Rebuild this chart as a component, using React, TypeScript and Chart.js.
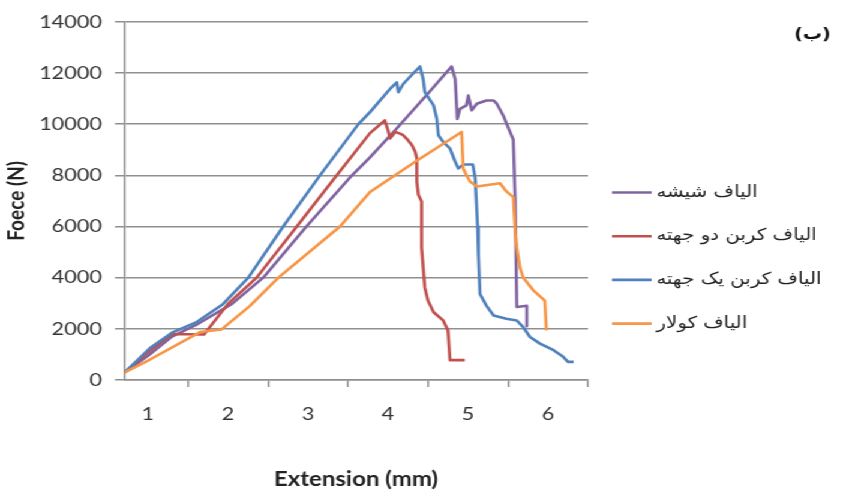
import React, { useEffect, useRef } from 'react';
import { Chart, registerables } from 'chart.js';

Chart.register(...registerables);

// ---------- data ----------
const seriesNames = ['الیاف شیشه', 'الیاف کربن دو جهته', 'الیاف کربن یک جهته', 'الیاف کولار'];
const seriesColors = ['#8064A2', '#C0504D', '#4F81BD', '#F79646'];

const glassX = [0.71, 1.0, 1.3, 1.6, 2.05, 2.44, 2.98, 3.55, 3.775, 4.1, 4.5, 4.795, 4.84, 4.866, 4.9, 4.98, 5.004, 5.046, 5.11, 5.23, 5.32, 5.36, 5.44, 5.525, 5.566, 5.59, 5.61, 5.735, 5.735];
const glassY = [300, 950, 1700, 2150, 2975, 4000, 6000, 8000, 8700, 9800, 11200, 12254, 11760, 10200, 10600, 10730, 11120, 10540, 10800, 10924, 10924, 10800, 10340, 9700, 9400, 7000, 2850, 2900, 2100];

const carbon2X = [0.71, 1.025, 1.3, 1.7, 2.0, 2.358, 2.86, 3.36, 3.775, 3.96, 4.0, 4.025, 4.09, 4.15, 4.19, 4.25, 4.3, 4.34, 4.36, 4.36, 4.38, 4.42, 4.42, 4.44, 4.46, 4.5, 4.57, 4.69, 4.75, 4.775, 4.96];
const carbon2Y = [300, 1150, 1800, 1780, 2975, 4000, 6000, 8000, 9650, 10150, 9760, 9437, 9696, 9630, 9567, 9373, 9178, 8920, 8660, 7756, 7240, 6980, 5170, 4394, 3618, 3102, 2649, 2327, 1939, 776, 776];

const carbon1X = [0.71, 1.025, 1.3, 1.6, 1.94, 2.254, 2.69, 3.15, 3.63, 3.775, 4.025, 4.11, 4.13, 4.19, 4.32, 4.4, 4.44, 4.46, 4.57, 4.61, 4.63, 4.69, 4.775, 4.84, 4.88, 4.94, 5.06, 5.09, 5.12, 5.13, 5.15, 5.23, 5.32, 5.48, 5.61, 5.69, 5.775, 5.9, 6.07, 6.19, 6.25, 6.32];
const carbon1Y = [300, 1250, 1850, 2250, 2975, 4000, 6000, 8000, 10000, 10470, 11375, 11635, 11250, 11570, 12000, 12254, 11760, 11250, 10730, 10210, 9567, 9307, 9047, 8530, 8270, 8420, 8420, 7885, 6000, 4912, 3362, 2908, 2520, 2392, 2327, 2067, 1680, 1422, 1163, 904, 710, 710];

const kevlarX = [0.71, 1.025, 1.65, 1.92, 2.275, 2.63, 3.4, 3.775, 4.34, 4.92, 4.94, 4.98, 5.025, 5.11, 5.4, 5.48, 5.566, 5.59, 5.61, 5.65, 5.69, 5.82, 5.96, 5.98];
const kevlarY = [300, 800, 1873, 1977, 2900, 4000, 6000, 7350, 8530, 9696, 8270, 8010, 7756, 7560, 7690, 7370, 7150, 5817, 5170, 4394, 4006, 3490, 3102, 1939];

const seriesX = [glassX, carbon2X, carbon1X, kevlarX];
const seriesY = [glassY, carbon2Y, carbon1Y, kevlarY];

const xLabelValues = [1, 2, 3, 4, 5, 6];
const xTickMarks = [1.5, 2.5, 3.5, 4.5, 5.5, 6.5];
const xMin = 0.7;
const xMax = 6.5;
const yMin = 0;
const yMax = 14000;
const yStep = 2000;

const xTitle = 'Extension (mm)';
const yTitle = 'Foece (N)';
const cornerLabel = '(ب)';

// ---------- layout (canvas units; the canvas is stretched 1.2x horizontally) ----------
const W = 700;
const H = 497;
const STRETCH = 1.2;
const GRID = '#8f8f8f';
const RIGHT_PAD = 210;
const LEGEND_LINE_X = 510;
const LEGEND_LINE_LEN = 33;
const LEGEND_TEXT_GAP = 4;
const LEGEND_TOP = 192.5;
const LEGEND_STEP = 43.7;
const LEGEND_FONT = '16.5px "DejaVu Sans", sans-serif';

const legendPlugin = {
  id: 'sideLegend',
  afterDraw(chart: any) {
    const { ctx } = chart;
    ctx.save();
    chart.data.datasets.forEach((ds: any, i: number) => {
      const y = LEGEND_TOP + i * LEGEND_STEP;
      ctx.strokeStyle = ds.borderColor;
      ctx.lineWidth = ds.borderWidth;
      ctx.lineCap = 'butt';
      ctx.beginPath();
      ctx.moveTo(LEGEND_LINE_X, y);
      ctx.lineTo(LEGEND_LINE_X + LEGEND_LINE_LEN, y);
      ctx.stroke();
      ctx.font = LEGEND_FONT;
      ctx.fillStyle = '#222';
      ctx.textAlign = 'left';
      ctx.textBaseline = 'middle';
      ctx.fillText(ds.label, LEGEND_LINE_X + LEGEND_LINE_LEN + LEGEND_TEXT_GAP, y);
    });
    ctx.font = 'bold 16px "DejaVu Sans", sans-serif';
    ctx.fillStyle = '#111';
    ctx.textAlign = 'center';
    ctx.textBaseline = 'middle';
    ctx.fillText(cornerLabel, 677, 35);
    ctx.restore();
  },
};

export default function App() {
  const ref = useRef<HTMLCanvasElement>(null);

  useEffect(() => {
    const canvas = ref.current!;

    const datasets = seriesNames.map((name, i) => ({
      label: name,
      data: seriesX[i].map((x, j) => ({ x, y: seriesY[i][j] })),
      borderColor: seriesColors[i],
      backgroundColor: seriesColors[i],
      borderWidth: 2.6,
      pointRadius: 0,
      pointHoverRadius: 0,
      tension: 0,
      borderJoinStyle: 'round' as const,
      order: seriesNames.length - i,
    }));

    const chart = new Chart(canvas, {
      type: 'line',
      data: { datasets },
      options: {
        animation: false,
        responsive: false,
        maintainAspectRatio: false,
        events: [],
        layout: { padding: { top: 19, left: 0, right: RIGHT_PAD, bottom: 0 } },
        plugins: {
          tooltip: { enabled: false },
          legend: { display: false },
        },
        scales: {
          x: {
            type: 'linear',
            min: xMin,
            max: xMax,
            afterFit: (s: any) => {
              s.height = 117;
            },
            afterBuildTicks: (s: any) => {
              s.ticks = [...xLabelValues, ...xTickMarks].sort((a, b) => a - b).map((v) => ({ value: v }));
            },
            ticks: {
              autoSkip: false,
              maxRotation: 0,
              padding: 16,
              color: '#333',
              font: { family: 'Lato', size: 18 },
              callback: (v: any) => (xLabelValues.includes(Number(v)) ? String(v) : ''),
            },
            grid: {
              drawOnChartArea: false,
              drawTicks: true,
              tickLength: 7,
              lineWidth: 1.5,
              color: (ctx: any) => (ctx.tick && xLabelValues.includes(ctx.tick.value) ? 'rgba(0,0,0,0)' : GRID),
            },
            border: { display: true, color: GRID, width: 1.5 },
            title: {
              display: true,
              text: xTitle,
              color: '#222',
              font: { family: 'Lato', size: 20, weight: 'bold' },
              padding: { top: 0, bottom: 5 },
            },
          },
          y: {
            type: 'linear',
            min: yMin,
            max: yMax,
            afterFit: (s: any) => {
              s.width = 124 / STRETCH;
            },
            ticks: {
              stepSize: yStep,
              padding: 11,
              color: '#333',
              font: { family: 'Lato', size: 18 },
              callback: (v: any) => String(v),
            },
            grid: {
              color: GRID,
              lineWidth: 1.5,
              tickLength: 7.5,
              drawTicks: true,
            },
            border: { display: true, color: GRID, width: 1.5 },
            title: {
              display: true,
              text: yTitle,
              color: '#222',
              font: { family: 'Lato', size: 19, weight: 'bold' },
              padding: { top: 2, bottom: 0 },
            },
          },
        },
      },
      plugins: [legendPlugin],
    } as any);

    return () => chart.destroy();
  }, []);

  return (
    <div
      style={{
        position: 'absolute',
        left: 0,
        top: 0,
        width: W,
        height: H,
        transform: `scaleX(${STRETCH})`,
        transformOrigin: '0 0',
        background: '#fff',
      }}
    >
      <canvas ref={ref} width={W} height={H} style={{ display: 'block' }} />
    </div>
  );
}
